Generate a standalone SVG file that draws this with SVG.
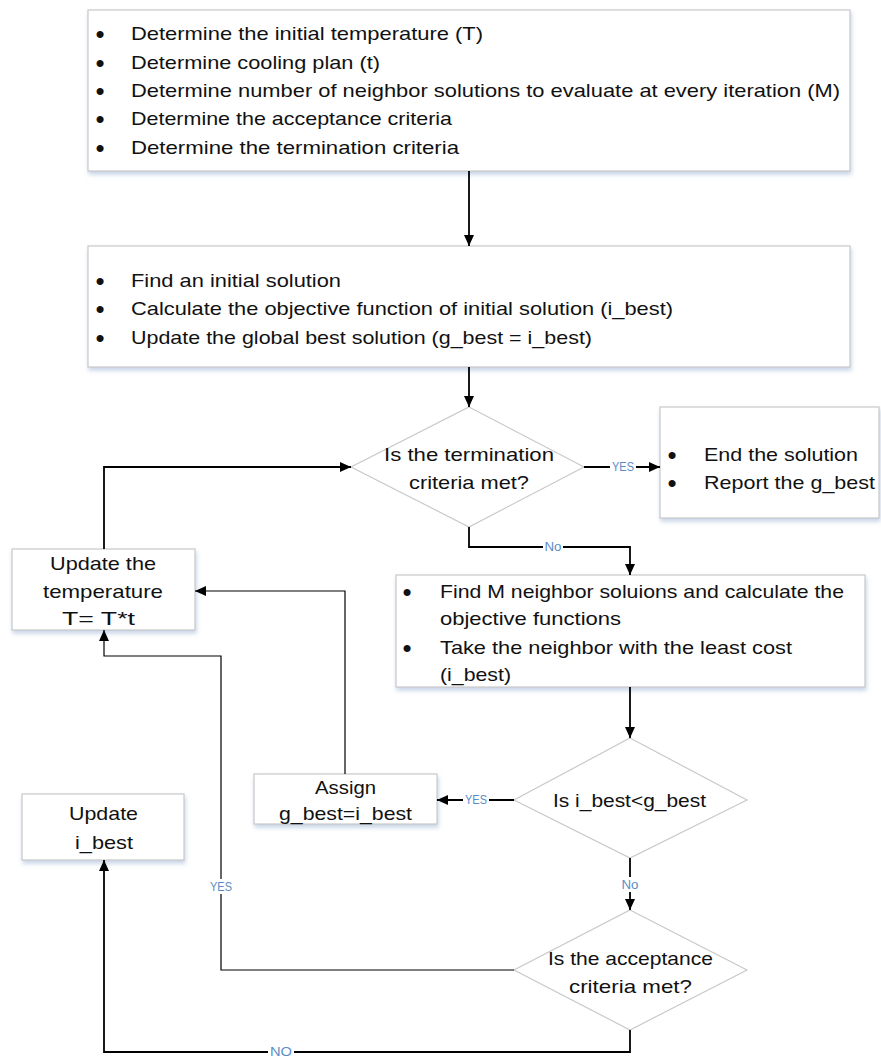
<svg xmlns="http://www.w3.org/2000/svg" width="881" height="1057" viewBox="0 0 881 1057">
<style>
.box{fill:#fff;stroke:#c9c9c9;stroke-width:1.2;filter:url(#sh)}
.dia{fill:#fff;stroke:#c9c9c9;stroke-width:1.2}
.t{font-family:"Liberation Sans",Arial,sans-serif;font-size:19px;fill:#111}
.b{font-family:"Liberation Sans",Arial,sans-serif;font-size:26px;fill:#111;text-anchor:middle}
.lb{font-family:"Liberation Sans",Arial,sans-serif;font-size:12px;fill:#5b8cc6;text-anchor:middle}
.c{fill:none;stroke:#000;stroke-width:1.8}
.thin{stroke-width:1.2}
</style>
<defs>
<filter id="sh" x="-5%" y="-10%" width="110%" height="130%">
<feDropShadow dx="1" dy="3" stdDeviation="2" flood-color="#8eaad0" flood-opacity="0.5"/>
</filter>
<marker id="ar" markerUnits="userSpaceOnUse" markerWidth="12" markerHeight="10" refX="11" refY="5" orient="auto">
<path d="M0,0 L11,5 L0,10 z" fill="#000"/>
</marker>
</defs>

<g id="init-params">
<rect class="box" x="88" y="10" width="762" height="161"/>
<text class="b" x="100" y="43">•</text>
<text class="t" x="131" y="40" textLength="352" lengthAdjust="spacingAndGlyphs">Determine the initial temperature (T)</text>
<text class="b" x="100" y="72">•</text>
<text class="t" x="131" y="69" textLength="249" lengthAdjust="spacingAndGlyphs">Determine cooling plan (t)</text>
<text class="b" x="100" y="100">•</text>
<text class="t" x="131" y="97" textLength="709" lengthAdjust="spacingAndGlyphs">Determine number of neighbor solutions to evaluate at every iteration (M)</text>
<text class="b" x="100" y="128">•</text>
<text class="t" x="131" y="125" textLength="321" lengthAdjust="spacingAndGlyphs">Determine the acceptance criteria</text>
<text class="b" x="100" y="157">•</text>
<text class="t" x="131" y="154" textLength="328" lengthAdjust="spacingAndGlyphs">Determine the termination criteria</text>
</g>

<g id="init-solution">
<rect class="box" x="88" y="246" width="762" height="121"/>
<text class="b" x="100" y="290">•</text>
<text class="t" x="131" y="287" textLength="210" lengthAdjust="spacingAndGlyphs">Find an initial solution</text>
<text class="b" x="100" y="318">•</text>
<text class="t" x="131" y="315" textLength="542" lengthAdjust="spacingAndGlyphs">Calculate the objective function of initial solution (i_best)</text>
<text class="b" x="100" y="347">•</text>
<text class="t" x="131" y="344" textLength="461" lengthAdjust="spacingAndGlyphs">Update the global best solution (g_best = i_best)</text>
</g>

<g id="termination-check">
<polygon class="dia" points="469,407 584,467 469,527 351,467"/>
<text class="t" x="384" y="461" textLength="170" lengthAdjust="spacingAndGlyphs">Is the termination</text>
<text class="t" x="409" y="489" textLength="120" lengthAdjust="spacingAndGlyphs">criteria met?</text>
</g>

<g id="end">
<rect class="box" x="660" y="407" width="219" height="111"/>
<text class="b" x="672" y="464">•</text>
<text class="t" x="704" y="461" textLength="154" lengthAdjust="spacingAndGlyphs">End the solution</text>
<text class="b" x="672" y="492">•</text>
<text class="t" x="704" y="489" textLength="171" lengthAdjust="spacingAndGlyphs">Report the g_best</text>
</g>

<g id="update-temperature">
<rect class="box" x="12" y="549" width="183" height="81"/>
<text class="t" x="50" y="570" textLength="106" lengthAdjust="spacingAndGlyphs">Update the</text>
<text class="t" x="43" y="598" textLength="120" lengthAdjust="spacingAndGlyphs">temperature</text>
<text class="t" x="62" y="625" textLength="73" lengthAdjust="spacingAndGlyphs">T= T*t</text>
</g>

<g id="neighbors">
<rect class="box" x="396" y="575" width="469" height="112"/>
<text class="b" x="407" y="601">•</text>
<text class="t" x="440" y="598" textLength="404" lengthAdjust="spacingAndGlyphs">Find M neighbor soluions and calculate the</text>
<text class="t" x="440" y="625" textLength="181" lengthAdjust="spacingAndGlyphs">objective functions</text>
<text class="b" x="407" y="657">•</text>
<text class="t" x="440" y="654" textLength="352" lengthAdjust="spacingAndGlyphs">Take the neighbor with the least cost</text>
<text class="t" x="440" y="681" textLength="71" lengthAdjust="spacingAndGlyphs">(i_best)</text>
</g>

<g id="compare">
<polygon class="dia" points="630,738 747,800 630,858 514,800"/>
<text class="t" x="553" y="807" textLength="153" lengthAdjust="spacingAndGlyphs">Is i_best&lt;g_best</text>
</g>

<g id="assign">
<rect class="box" x="254" y="774" width="183" height="50"/>
<text class="t" x="315" y="794" textLength="61" lengthAdjust="spacingAndGlyphs">Assign</text>
<text class="t" x="279" y="820" textLength="133" lengthAdjust="spacingAndGlyphs">g_best=i_best</text>
</g>

<g id="update-ibest">
<rect class="box" x="22" y="794" width="162" height="66"/>
<text class="t" x="69" y="820" textLength="69" lengthAdjust="spacingAndGlyphs">Update</text>
<text class="t" x="75" y="849" textLength="58" lengthAdjust="spacingAndGlyphs">i_best</text>
</g>

<g id="acceptance-check">
<polygon class="dia" points="630,910 747,970 630,1030 514,970"/>
<text class="t" x="548" y="965" textLength="165" lengthAdjust="spacingAndGlyphs">Is the acceptance</text>
<text class="t" x="569" y="993" textLength="123" lengthAdjust="spacingAndGlyphs">criteria met?</text>
</g>

<g id="connectors">
<path class="c" d="M469,171 V246" marker-end="url(#ar)"/>
<path class="c" d="M469,367 V407" marker-end="url(#ar)"/>
<path class="c" d="M584,467 H660" marker-end="url(#ar)"/>
<path class="c" d="M469,527 V547 H630 V575" marker-end="url(#ar)"/>
<path class="c" d="M630,687 V738" marker-end="url(#ar)"/>
<path class="c" d="M514,800 H437" marker-end="url(#ar)"/>
<path class="c thin" d="M345,774 V591 H195" marker-end="url(#ar)"/>
<path class="c" d="M104,549 V467 H351" marker-end="url(#ar)"/>
<path class="c" d="M630,858 V910" marker-end="url(#ar)"/>
<path class="c thin" d="M514,970 H221 V656 H104 V630" marker-end="url(#ar)"/>
<path class="c" d="M630,1030 V1052 H104 V860" marker-end="url(#ar)"/>
<rect x="610" y="459" width="26" height="15" fill="#fff"/>
<text class="lb" x="623" y="471" textLength="22" lengthAdjust="spacingAndGlyphs">YES</text>
<rect x="543" y="539" width="20" height="15" fill="#fff"/>
<text class="lb" x="553" y="551" textLength="17" lengthAdjust="spacingAndGlyphs">No</text>
<rect x="463" y="792" width="26" height="15" fill="#fff"/>
<text class="lb" x="476" y="804" textLength="22" lengthAdjust="spacingAndGlyphs">YES</text>
<rect x="620" y="877" width="20" height="15" fill="#fff"/>
<text class="lb" x="630" y="889" textLength="17" lengthAdjust="spacingAndGlyphs">No</text>
<rect x="208" y="879" width="26" height="15" fill="#fff"/>
<text class="lb" x="221" y="891" textLength="22" lengthAdjust="spacingAndGlyphs">YES</text>
<rect x="268" y="1044" width="26" height="13" fill="#fff"/>
<text class="lb" x="281" y="1056" textLength="22" lengthAdjust="spacingAndGlyphs">NO</text>
</g>
</svg>
